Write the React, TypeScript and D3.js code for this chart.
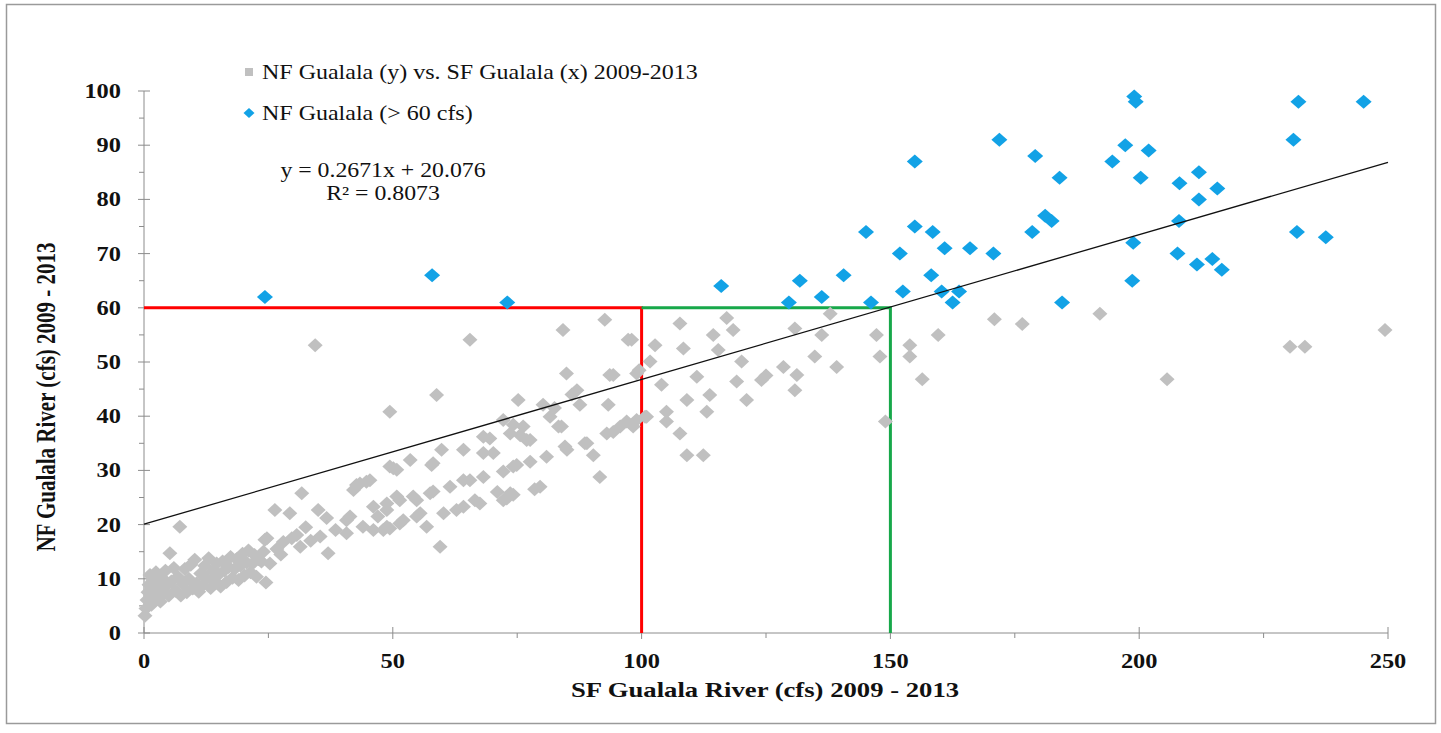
import React from "react";
import * as d3 from "d3";

const grayPoints: [number, number][] = [
  [0.2,3.2],[0.4,4.5],[0.6,6.1],[0.8,7.5],[1.0,8.9],[1.2,10.7],[1.5,5.2],[1.8,9.8],[2.0,6.8],[2.4,11.2],
  [2.8,8.2],[3.0,9.6],[3.3,5.8],[3.6,10.2],[4.0,7.3],[4.3,11.5],[4.6,8.8],[5.0,6.9],[5.2,14.7],[5.5,9.5],
  [6.0,12.0],[6.3,7.8],[6.8,10.4],[7.2,19.6],[7.4,6.9],[7.8,9.0],[8.2,11.8],[8.6,7.5],[9.0,10.0],[9.4,12.6],
  [9.8,8.2],[10.2,13.5],[10.6,9.2],[11.0,7.6],[11.4,11.0],[11.8,8.8],[12.2,12.4],[12.6,10.0],[13.0,13.8],[13.4,8.3],
  [13.8,11.4],[14.2,9.6],[14.6,12.8],[15.0,10.8],[15.4,8.6],[15.8,13.2],[16.2,11.6],[16.6,9.4],[17.0,12.2],[17.4,14.0],
  [17.8,10.2],[18.2,11.8],[18.6,13.6],[19.0,9.8],[19.4,12.4],[19.8,14.6],[20.2,10.6],[20.6,13.0],[21.0,15.2],[21.4,11.2],
  [21.8,12.8],[22.2,14.4],[22.6,10.4],[23.0,13.6],[23.6,13.2],[24.0,15.0],[24.7,17.5],[24.5,9.3],[25.3,12.8],
  [24.3,17.2],[26.3,22.7],[26.7,15.5],[27.5,14.5],[28.0,16.8],[29.3,22.1],[29.7,17.5],[30.7,18.1],[31.4,15.9],[31.7,25.8],
  [32.5,19.5],[33.5,17.0],[34.4,53.1],[35.0,22.7],[35.4,17.8],[36.7,21.2],[37.0,14.7],[38.5,19.0],[40.7,18.4],[40.7,20.8],
  [41.4,21.5],[42.1,26.4],[42.7,27.3],[43.4,27.6],[44.0,19.6],[44.7,27.9],[45.4,28.2],[46.1,23.3],[46.1,19.0],[47.0,21.5],
  [48.1,19.0],[48.8,22.7],[48.8,23.9],[48.8,19.6],[49.4,19.3],[49.4,30.7],[49.4,40.8],[50.1,30.4],[50.8,25.2],[50.8,30.1],
  [51.4,24.5],[51.4,20.2],[52.1,20.8],[53.5,31.9],[54.1,25.2],[54.8,21.5],[54.8,24.5],[55.5,22.1],[56.8,19.6],[57.5,25.8],
  [57.8,31.0],[58.1,26.1],[58.1,31.3],[58.8,43.9],[59.5,15.9],[59.8,33.8],[60.2,22.1],[61.5,27.0],[62.8,22.7],[64.2,33.8],
  [64.2,23.3],[64.2,28.2],[65.5,28.2],[65.5,54.1],[66.5,24.5],[67.5,23.9],[68.2,33.2],[68.2,28.8],[68.2,36.2],[69.5,35.9],
  [70.2,33.2],[71.0,26.0],[72.2,29.8],[72.2,24.5],[72.2,39.3],[72.9,24.8],[73.6,36.8],[73.6,25.8],[74.2,38.4],[74.2,30.7],
  [74.2,25.5],[74.9,31.0],[75.2,43.0],[75.6,36.5],[76.2,38.1],[76.9,35.6],[77.6,31.6],[77.6,35.6],[78.5,26.5],[79.6,27.0],
  [80.2,42.1],[80.9,32.5],[81.6,39.9],[82.5,41.5],[83.3,38.1],[83.9,38.1],[84.2,55.9],[84.6,34.4],[84.9,47.9],[85.0,33.8],
  [86.0,44.0],[87.0,44.8],[87.6,42.1],[88.6,35.0],[89.0,35.0],[90.3,32.8],[91.6,28.8],[92.6,57.8],[93.0,36.8],[93.3,42.1],
  [93.6,47.6],[94.3,37.1],[94.3,47.6],[95.7,38.1],[97.0,39.0],[97.3,54.1],[98.0,54.1],[98.3,38.1],[99.0,47.9],[99.0,39.3],
  [99.5,48.5],[100.7,39.9],[101.0,39.9],[101.7,50.1],[102.7,53.1],[104.0,45.8],[105.0,40.8],[105.0,39.0],[107.7,36.8],[107.7,57.1],
  [108.4,52.5],[109.1,43.0],[109.1,32.8],[111.1,47.3],[112.4,32.8],[113.1,40.8],[113.7,43.9],[114.4,55.0],[115.4,52.2],[117.1,58.1],
  [118.4,55.9],[119.1,46.4],[120.1,50.1],[121.1,43.0],[124.1,46.7],[125.0,47.5],[128.5,49.1],[130.8,56.2],[130.8,44.8],[131.2,47.6],
  [134.8,51.0],[136.2,55.0],[137.9,58.9],[139.2,49.1],[147.2,55.0],[147.9,51.0],[149.0,39.0],[153.9,53.1],[153.9,51.0],[156.4,46.8],
  [159.6,55.0],[170.9,57.9],[176.5,57.0],[192.1,58.9],[205.6,46.8],[230.3,52.8],[233.3,52.8],[249.4,55.9]
];

const bluePoints: [number, number][] = [
  [24.3,62],[57.9,66],[73,61],[116,64],[129.6,61],[131.8,65],[136.2,62],[140.6,66],[145.1,74],[146.1,61],
  [151.9,70],[152.5,63],[154.9,87],[154.9,75],[158.2,66],[158.5,74],[160.9,71],[160.3,63],[162.5,61],[163.8,63],
  [166,71],[170.7,70],[171.9,91],[178.5,74],[179.1,88],[181.1,77],[182.4,76],[184,84],[184.5,61],[194.6,87],
  [197.2,90],[198.8,72],[198.6,65],[199,99],[199.3,98],[200.3,84],[201.9,89],[207.7,70],[208,76],[208.1,83],
  [211.6,68],[212,80],[212,85],[214.7,69],[215.7,82],[216.6,67],[231,91],[231.7,74],[232,98],[237.5,73],[245.1,98]
];

const xTicks = [0, 50, 100, 150, 200, 250];
const yTicks = [0, 10, 20, 30, 40, 50, 60, 70, 80, 90, 100];
const slope = 0.2671;
const intercept = 20.076;
const legendLabels = ["NF Gualala (y) vs. SF Gualala (x) 2009-2013", "NF Gualala (> 60 cfs)"];
const equationLines = ["y = 0.2671x + 20.076", "R² = 0.8073"];
const xTitle = "SF Gualala River (cfs) 2009 - 2013";
const yTitle = "NF Gualala River (cfs) 2009 - 2013";

const FONT = "'Liberation Serif', 'Times New Roman', serif";

export default function App() {
  const x = d3.scaleLinear().domain([0, 250]).range([144, 1388]);
  const y = d3.scaleLinear().domain([0, 100]).range([633, 91]);
  const diamond = (cx: number, cy: number, rx: number, ry: number) =>
    `M${cx},${cy - ry}L${cx + rx},${cy}L${cx},${cy + ry}L${cx - rx},${cy}Z`;
  const minorY = d3.range(5, 100, 10);
  const minorX = d3.range(25, 250, 50);
  const axisColor = "#8c8c8c";
  const SX = 1.22;

  return (
    <svg width={1441} height={733} style={{ position: "absolute", left: 0, top: 0, background: "#fff" }}>
      <rect x={6.5} y={4.5} width={1429} height={719} fill="#fff" stroke="#9a9a9a" strokeWidth={1.5} />

      {/* axes */}
      <line x1={x(0)} x2={x(0)} y1={y(100)} y2={y(0)} stroke={axisColor} strokeWidth={1} />
      <line x1={x(0)} x2={x(250)} y1={y(0)} y2={y(0)} stroke={axisColor} strokeWidth={1} />
      {yTicks.map((t) => (
        <g key={"yt" + t}>
          <line x1={x(0) - 6} x2={x(0) + 6} y1={y(t)} y2={y(t)} stroke={axisColor} />
          <g transform={`translate(121,${y(t)}) scale(${SX},1)`}>
            <text dy="0.35em" textAnchor="end" fontFamily={FONT} fontWeight="bold" fontSize={20} fill="#111">
              {t}
            </text>
          </g>
        </g>
      ))}
      {minorY.map((t) => (
        <line key={"ym" + t} x1={x(0) - 5} x2={x(0)} y1={y(t)} y2={y(t)} stroke={axisColor} />
      ))}
      {xTicks.map((t) => (
        <g key={"xt" + t}>
          <line x1={x(t)} x2={x(t)} y1={y(0) - 6} y2={y(0) + 6} stroke={axisColor} />
          <g transform={`translate(${x(t)},661) scale(${SX},1)`}>
            <text dy="0.35em" textAnchor="middle" fontFamily={FONT} fontWeight="bold" fontSize={20} fill="#111">
              {t}
            </text>
          </g>
        </g>
      ))}
      {minorX.map((t) => (
        <line key={"xm" + t} x1={x(t)} x2={x(t)} y1={y(0)} y2={y(0) + 5} stroke={axisColor} />
      ))}

      {/* threshold lines */}
      <polyline
        points={`${x(0)},${y(60)} ${x(100)},${y(60)} ${x(100)},${y(0)}`}
        fill="none" stroke="#ff0000" strokeWidth={3}
      />
      <polyline
        points={`${x(100)},${y(60)} ${x(150)},${y(60)} ${x(150)},${y(0)}`}
        fill="none" stroke="#17a84a" strokeWidth={3}
      />

      {/* points */}
      {grayPoints.map((p, i) => (
        <path key={"g" + i} d={diamond(x(p[0]), y(p[1]), 7.5, 7)} fill="#c0c0c0" />
      ))}
      {bluePoints.map((p, i) => (
        <path key={"b" + i} d={diamond(x(p[0]), y(p[1]), 8, 7)} fill="#12a2e6" />
      ))}

      {/* trendline */}
      <line x1={x(0)} y1={y(intercept)} x2={x(250)} y2={y(slope * 250 + intercept)} stroke="#111" strokeWidth={1.3} />

      {/* legend */}
      <rect x={245} y={68} width={8} height={8} fill="#c0c0c0" />
      <path d={diamond(249, 113, 5.5, 5)} fill="#12a2e6" />
      {legendLabels.map((l, i) => (
        <g key={"l" + i} transform={`translate(262,${72 + i * 41}) scale(1.2,1)`}>
          <text dy="0.35em" fontFamily={FONT} fontSize={20} fill="#111">
            {l}
          </text>
        </g>
      ))}
      {equationLines.map((l, i) => (
        <g key={"e" + i} transform={`translate(383,${170 + i * 23}) scale(1.19,1)`}>
          <text dy="0.35em" textAnchor="middle" fontFamily={FONT} fontSize={20} fill="#111">
            {l}
          </text>
        </g>
      ))}

      {/* titles */}
      <g transform={`translate(765,690) scale(1.27,1)`}>
        <text dy="0.35em" textAnchor="middle" fontFamily={FONT} fontWeight="bold" fontSize={21} fill="#111">
          {xTitle}
        </text>
      </g>
      <g transform={`translate(46,397) rotate(-90) scale(1,1.27)`}>
        <text dy="0.35em" textAnchor="middle" fontFamily={FONT} fontWeight="bold" fontSize={21} fill="#111">
          {yTitle}
        </text>
      </g>
    </svg>
  );
}
